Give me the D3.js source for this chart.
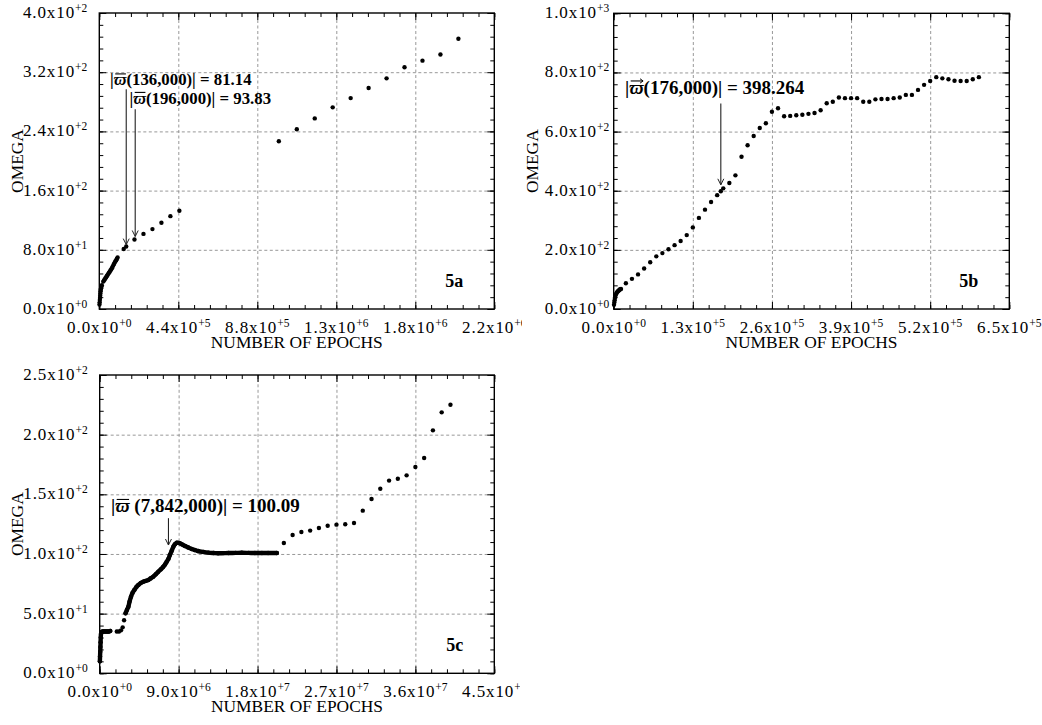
<!DOCTYPE html>
<html>
<head>
<meta charset="utf-8">
<script src="https://cdn.jsdelivr.net/npm/d3@7"></script>
<style>
  body { margin: 0; background: #fff; }
  svg text { font-family: 'Liberation Serif', 'Times New Roman', serif; fill: #000; }
</style>
</head>
<body>
<svg id="fig" width="1042" height="725"></svg>
<script>
// ---- panel 5a ----
const epochs5a = [1000, 2000, 3000, 4000, 5000, 6000, 7000, 8000, 10000, 12000, 14000,
  22000, 26000, 30000, 34000, 38000, 42000, 46000, 50000, 54000, 58000, 62000, 66000, 70000,
  74000, 78000, 82000, 86000, 90000, 94000, 98000, 102000,
  136000, 150000, 196000, 246000, 296000, 346000, 396000, 446000,
  1000000, 1100000, 1200000, 1300000, 1400000, 1500000, 1600000, 1700000, 1800000, 1900000, 2000000];
const omega5a = [6, 9, 12, 15, 18, 21, 24, 26, 28, 30, 32,
  37, 38.5, 40, 41.5, 43, 44.5, 46, 47.5, 49, 50.5, 52, 53.5, 55,
  57, 59, 61, 63, 64.5, 66, 68, 69.5,
  81.14, 84.5, 93.83, 101.5, 108, 116.5, 125.5, 132.8,
  226.6, 243, 257.6, 272.5, 285, 298.6, 311.7, 326.6, 335.6, 344, 365.3];
const xTicks5a = [0, 4.4e5, 8.8e5, 1.32e6, 1.76e6, 2.2e6];
const yTicks5a = [0, 80, 160, 240, 320, 400];

// ---- panel 5b ----
const epochs5b = [500, 1000, 1500, 2000, 3000, 4000, 5000, 6000, 7000, 8000, 9000, 10000, 11000, 12000,
  20000, 30000, 40000, 50000, 60000, 70000, 80000, 90000, 100000, 110000, 120000, 130000, 140000,
  150000, 160000, 170000, 176000, 180000, 190000, 200000, 210000, 220000, 230000, 240000, 250000,
  260000, 270000, 280000, 290000, 300000, 310000, 320000, 330000, 340000, 350000, 360000, 370000,
  380000, 390000, 400000, 410000, 420000, 430000, 440000, 450000, 460000, 470000, 480000, 490000,
  500000, 510000, 520000, 530000, 540000, 550000, 560000, 570000, 580000, 590000, 600000];
const omega5b = [14, 22, 30, 37, 45, 51, 55, 58, 60, 62, 64, 66, 67, 68,
  87, 102, 117, 137, 158, 178, 189, 202, 216, 230, 250, 276, 308,
  336, 362, 385, 398.264, 408, 426, 452, 515, 554, 585, 612, 628,
  667, 679, 652, 653, 655, 657, 660, 663, 672, 696, 701, 715,
  713, 713, 713, 701, 701, 709, 710, 710, 713, 715, 724, 724,
  741, 758, 771, 784, 780, 777, 772, 771, 771, 777, 784];
const xTicks5b = [0, 1.3e5, 2.6e5, 3.9e5, 5.2e5, 6.5e5];
const yTicks5b = [0, 200, 400, 600, 800, 1000];

// ---- panel 5c ----
// dense stretches (plotted as a continuous band of points)
const epochs5cStart = [2e4, 4e4, 6e4, 8e4, 1e5, 1.2e5, 1.5e5, 2e5, 3e5, 4.5e5, 6e5, 7.5e5, 9e5, 1.05e6, 1.2e6];
const omega5cStart = [10, 14, 18, 22, 26, 30, 33, 34.5, 35, 35, 35, 35, 35, 35, 35.5];
const epochs5cGap = [1.95e6, 2.2e6, 2.43e6, 2.62e6, 2.78e6];
const omega5cGap = [35, 35, 36, 38.5, 44.5];
const epochs5cDense = [2.95e6, 3.1e6, 3.27e6, 3.4e6, 3.57e6, 3.75e6, 3.95e6, 4.2e6, 4.4e6, 4.7e6, 4.97e6,
  5.25e6, 5.54e6, 5.8e6, 6.1e6, 6.4e6, 6.68e6, 6.95e6, 7.25e6, 7.45e6, 7.64e6, 7.842e6, 8.0e6, 8.2e6,
  8.4e6, 8.6e6, 8.78e6, 9.0e6, 9.16e6, 9.45e6, 9.73e6, 1.01e7, 1.05e7, 1.085e7, 1.12e7, 1.18e7, 1.24e7,
  1.3e7, 1.35e7, 1.41e7, 1.47e7, 1.55e7, 1.62e7, 1.7e7, 1.77e7, 1.85e7, 1.92e7, 2.02e7];
const omega5cDense = [50.3, 53, 55.8, 60, 64.2, 67.5, 69.8, 72.5, 74, 75.8, 76.8,
  77.5, 78.2, 79.5, 81, 83, 85.1, 87, 89.3, 91.2, 93.5, 96, 99.1, 102.5,
  106.1, 108.3, 109.4, 109.3, 108.9, 107.8, 106.7, 105.4, 104.2, 103.3, 102.5, 101.7, 101.1,
  100.8, 100.6, 100.7, 100.8, 100.9, 101, 100.9, 100.8, 100.8, 100.8, 100.8];
const epochs5cLate = [2.1e7, 2.2e7, 2.3e7, 2.4e7, 2.5e7, 2.6e7, 2.7e7, 2.8e7, 2.9e7, 3.0e7,
  3.1e7, 3.2e7, 3.3e7, 3.4e7, 3.5e7, 3.6e7, 3.7e7, 3.8e7, 3.9e7, 4.0e7];
const omega5cLate = [109.2, 115.9, 118.4, 119.6, 121.8, 123.7, 124.6, 124.9, 126, 136.3,
  146.1, 154.7, 161.5, 163.1, 165.9, 172.9, 180.4, 203.6, 218.7, 225.1];
const xTicks5c = [0, 9e6, 1.8e7, 2.7e7, 3.6e7, 4.5e7];
const yTicks5c = [0, 50, 100, 150, 200, 250];

const svg = d3.select("#fig");
const defs = svg.append("defs");

const sci = v => v.toExponential(1).split("e");   // ["4.4", "+5"]

function tickLabel(g, x, y, v, anchor) {
  const [m, e] = sci(v);
  const t = g.append("text").attr("x", x).attr("y", y).attr("text-anchor", anchor)
    .attr("font-size", 17).attr("letter-spacing", 0.9);
  t.append("tspan").text(m + "x10");
  t.append("tspan").attr("dy", -6).attr("font-size", 11.5).attr("letter-spacing", 0).text(e);
}

function panel(o) {
  defs.append("clipPath").attr("id", o.id + "-clip")
    .append("rect").attr("width", o.w).attr("height", o.h);
  const g = svg.append("g").attr("transform", `translate(${o.ox},${o.oy})`)
    .attr("clip-path", `url(#${o.id}-clip)`);

  const x = d3.scaleLinear().domain([0, d3.max(o.xTicks)]).range([o.L, o.R]);
  const y = d3.scaleLinear().domain([0, d3.max(o.yTicks)]).range([o.B, o.T]);
  const W = o.R - o.L, H = o.B - o.T;

  // dashed grid
  const grid = g.append("g");
  grid.append("g").attr("transform", `translate(0,${o.B})`)
    .call(d3.axisBottom(x).tickValues(o.xTicks.slice(1, -1)).tickSize(-H).tickFormat(""));
  grid.append("g").attr("transform", `translate(${o.L},0)`)
    .call(d3.axisLeft(y).tickValues(o.yTicks.slice(1, -1)).tickSize(-W).tickFormat(""));
  grid.selectAll(".domain,text").remove();
  grid.selectAll("line").attr("stroke", "#8c8c8c").attr("stroke-width", 0.9).attr("stroke-dasharray", "3,2.5");

  // inward ticks on all four sides
  const xMinor = d3.range(26).map(i => i * x.domain()[1] / 25);
  const yMinor = d3.range(26).map(i => i * y.domain()[1] / 25);
  [[d3.axisBottom, x, `translate(0,${o.B})`, xMinor, o.xTicks],
   [d3.axisTop, x, `translate(0,${o.T})`, xMinor, o.xTicks],
   [d3.axisLeft, y, `translate(${o.L},0)`, yMinor, o.yTicks],
   [d3.axisRight, y, `translate(${o.R},0)`, yMinor, o.yTicks]].forEach(([ax, sc, tr, minor, major]) => {
    [[minor, 4], [major, 7]].forEach(([vals, len]) => {
      const a = g.append("g").attr("transform", tr)
        .call(ax(sc).tickValues(vals).tickSize(-len).tickFormat(""));
      a.selectAll(".domain,text").remove();
      a.selectAll("line").attr("stroke", "#000").attr("stroke-width", 1);
    });
  });

  g.append("rect").attr("x", o.L).attr("y", o.T).attr("width", W).attr("height", H)
    .attr("fill", "none").attr("stroke", "#000").attr("stroke-width", 1.4);

  // tick labels
  o.xTicks.forEach(v => tickLabel(g, x(v), o.B + 24, v, "middle"));
  o.yTicks.forEach(v => tickLabel(g, o.L - o.yGap, y(v) + 5, v, "end"));

  // axis titles
  g.append("text").attr("x", (o.L + o.R) / 2).attr("y", o.B + 39)
    .attr("text-anchor", "middle").attr("font-size", 17.4).text("NUMBER OF EPOCHS");
  g.append("text").attr("transform", `translate(${o.yTitleX},${(o.T + o.B) / 2}) rotate(-90)`)
    .attr("text-anchor", "middle").attr("font-size", 17.4).text("OMEGA");

  // panel tag
  g.append("text").attr("x", o.R - 31).attr("y", o.B - 22).attr("text-anchor", "end")
    .attr("font-size", 18).attr("font-weight", "bold").text(o.tag);

  // dense bands
  const line = d3.line().x(d => x(d[0])).y(d => y(d[1])).curve(d3.curveCatmullRom);
  (o.bands || []).forEach(([ex, om]) => {
    g.append("path").datum(d3.zip(ex, om)).attr("d", line)
      .attr("fill", "none").attr("stroke", "#000").attr("stroke-width", 4.4)
      .attr("stroke-linecap", "round").attr("stroke-linejoin", "round");
  });

  // points
  o.series.forEach(([ex, om]) => {
    g.append("g").selectAll("circle").data(d3.zip(ex, om)).join("circle")
      .attr("cx", d => x(d[0])).attr("cy", d => y(d[1])).attr("r", 2.2).attr("fill", "#000");
  });

  // annotations
  o.notes.forEach(n => {
    const t = g.append("text").attr("x", n.tx).attr("y", n.ty)
      .attr("font-size", n.fs).attr("font-weight", "bold");
    t.append("tspan").text("|");
    t.append("tspan").attr("font-style", "italic").text("\u03D6");
    t.append("tspan").text(n.text);
    const box = t.node().getExtentOfChar(1);
    const by = n.ty - n.fs * 0.66;
    const x0 = box.x + 1.5, x1 = box.x + box.width - 0.5;
    g.append("line").attr("x1", x0).attr("x2", x1).attr("y1", by).attr("y2", by)
      .attr("stroke", "#000").attr("stroke-width", 1.1);
    if (n.vec) {
      g.append("path").attr("d", `M${x1 - 3},${by - 2.2}L${x1},${by}L${x1 - 3},${by + 2.2}`)
        .attr("fill", "none").attr("stroke", "#000").attr("stroke-width", 1);
    }
    const ax = x(n.ax), a0 = y(n.from), a1 = y(n.to);
    g.append("line").attr("x1", ax).attr("x2", ax).attr("y1", a0).attr("y2", a1)
      .attr("stroke", "#222").attr("stroke-width", 1.1);
    g.append("path").attr("d", `M${ax - 3},${a1 - 6}L${ax},${a1}L${ax + 3},${a1 - 6}`)
      .attr("fill", "none").attr("stroke", "#222").attr("stroke-width", 1);
  });
}

panel({
  id: "p5a", ox: 0, oy: 0, w: 522, h: 360,
  L: 99.3, R: 494.3, T: 13, B: 309, yGap: 12, yTitleX: 22.5,
  xTicks: xTicks5a, yTicks: yTicks5a, tag: "5a",
  series: [[epochs5a, omega5a]],
  notes: [
    { tx: 110, ty: 85, fs: 16.8, text: "(136,000)| = 81.14", ax: 150000, from: 297, to: 87 },
    { tx: 129.5, ty: 103.5, fs: 16.8, text: "(196,000)| = 93.83", ax: 200000, from: 270, to: 98 }
  ]
});

panel({
  id: "p5b", ox: 520, oy: 0, w: 522, h: 360,
  L: 93.7, R: 489.3, T: 13.3, B: 309, yGap: 4.5, yTitleX: 18,
  xTicks: xTicks5b, yTicks: yTicks5b, tag: "5b",
  series: [[epochs5b, omega5b]],
  notes: [
    { tx: 105, ty: 93.5, fs: 19, text: "(176,000)| = 398.264", vec: true, ax: 176000, from: 695, to: 420 }
  ]
});

panel({
  id: "p5c", ox: 0, oy: 360, w: 520, h: 365,
  L: 99.7, R: 494.3, T: 15, B: 313.3, yGap: 12, yTitleX: 22.5,
  xTicks: xTicks5c, yTicks: yTicks5c, tag: "5c",
  bands: [[epochs5cStart, omega5cStart], [epochs5cDense, omega5cDense]],
  series: [[epochs5cStart, omega5cStart], [epochs5cGap, omega5cGap],
           [epochs5cDense, omega5cDense], [epochs5cLate, omega5cLate]],
  notes: [
    { tx: 111, ty: 152, fs: 19, text: " (7,842,000)| = 100.09", ax: 7.842e6, from: 130, to: 107.5 }
  ]
});
</script>
</body>
</html>
